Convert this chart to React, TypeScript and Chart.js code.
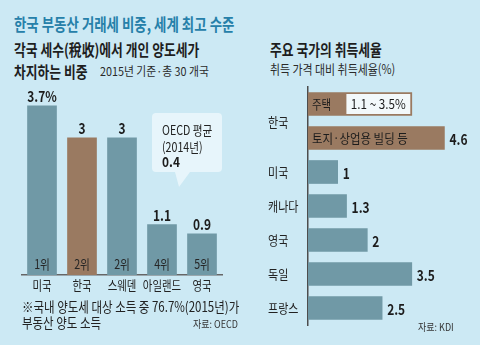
import React, { useEffect, useRef } from 'react';
import { Chart, registerables } from 'chart.js';

Chart.register(...registerables);

const FONT = '"Noto Sans CJK KR", "Noto Sans", sans-serif';

// ---- Left chart: share of personal capital-gains tax in total tax revenue (2015, 30 countries)
const leftCountries = ['미국', '한국', '스웨덴', '아일랜드', '영국'];
const leftShares = [3.7, 3, 3, 1.1, 0.9];
const leftRanks = ['1위', '2위', '2위', '4위', '5위'];
const leftValueLabels = ['3.7%', '3', '3', '1.1', '0.9'];
const oecdAverage = 0.4;
const oecdYearLabel = '(2014년)';

// ---- Right chart: acquisition tax rates (% of acquisition price)
const rightRows = ['한국 주택', '한국 토지·상업용 빌딩 등', '미국', '캐나다', '영국', '독일', '프랑스'];
const rightRowLabels = ['', '', '미국', '캐나다', '영국', '독일', '프랑스'];
const acquisitionRates = [3.5, 4.6, 1, 1.3, 2, 3.5, 2.5];
const rightValueLabels = ['', '4.6', '1', '1.3', '2', '3.5', '2.5'];
const koreaLabel = '한국';
const koreaHousingLabel = '주택';
const koreaHousingRange = '1.1 ~ 3.5%';
const koreaLandLabel = '토지·상업용 빌딩 등';

const BG = '#cce9f4';
const TEAL = '#7099a6';
const BROWN = '#9a7a61';
const DARK = '#1c1c1c';

function drawText(
  ctx: CanvasRenderingContext2D,
  text: string,
  x: number,
  y: number,
  font: string,
  color: string,
  align: CanvasTextAlign,
  sx = 1
) {
  ctx.save();
  ctx.font = font;
  ctx.fillStyle = color;
  ctx.textBaseline = 'middle';
  ctx.textAlign = align;
  ctx.translate(x, y);
  ctx.scale(sx, 1);
  ctx.fillText(text, 0, 0);
  ctx.restore();
}

const leftPlugin = {
  id: 'leftLabels',
  afterDatasetsDraw(chart: any) {
    const ctx = chart.ctx as CanvasRenderingContext2D;
    const area = chart.chartArea;
    const meta = chart.getDatasetMeta(0);
    meta.data.forEach((bar: any, i: number) => {
      drawText(ctx, leftValueLabels[i], bar.x, bar.y - 9.5, `bold 15px ${FONT}`, DARK, 'center', 0.8);
      drawText(ctx, leftRanks[i], bar.x, area.bottom - 11, `13px ${FONT}`, '#262626', 'center', 0.82);
      drawText(ctx, leftCountries[i], bar.x, area.bottom + 10, `13px ${FONT}`, '#222', 'center', 0.8);
    });
    // OECD average callout
    const bx = 152, by = 33, bw = 70, bh = 59, r = 4;
    ctx.save();
    ctx.fillStyle = 'rgba(232, 246, 251, 0.95)';
    ctx.beginPath();
    ctx.moveTo(bx + r, by);
    ctx.lineTo(bx + bw - r, by);
    ctx.quadraticCurveTo(bx + bw, by, bx + bw, by + r);
    ctx.lineTo(bx + bw, by + bh - r);
    ctx.quadraticCurveTo(bx + bw, by + bh, bx + bw - r, by + bh);
    ctx.lineTo(190, by + bh);
    ctx.lineTo(179, by + bh + 15);
    ctx.lineTo(175, by + bh);
    ctx.lineTo(bx + r, by + bh);
    ctx.quadraticCurveTo(bx, by + bh, bx, by + bh - r);
    ctx.lineTo(bx, by + r);
    ctx.quadraticCurveTo(bx, by, bx + r, by);
    ctx.closePath();
    ctx.fill();
    ctx.restore();
    drawText(ctx, 'OECD 평균', 162, 50, `13px ${FONT}`, '#222', 'left', 0.82);
    drawText(ctx, oecdYearLabel, 162, 67, `13px ${FONT}`, '#222', 'left', 0.82);
    drawText(ctx, String(oecdAverage), 162, 82, `bold 14px ${FONT}`, DARK, 'left', 0.85);
  },
};

const rightPlugin = {
  id: 'rightLabels',
  afterDatasetsDraw(chart: any) {
    const ctx = chart.ctx as CanvasRenderingContext2D;
    const meta = chart.getDatasetMeta(0);
    const bars = meta.data as any[];
    bars.forEach((bar: any, i: number) => {
      if (rightValueLabels[i]) {
        drawText(ctx, rightValueLabels[i], bar.x + 5, bar.y + 1, `bold 15px ${FONT}`, DARK, 'left', 0.8);
      }
      if (rightRowLabels[i]) {
        drawText(ctx, rightRowLabels[i], 8, bar.y, `13px ${FONT}`, '#222', 'left', 0.85);
      }
    });
    // Korea group label
    drawText(ctx, koreaLabel, 8, (bars[0].y + bars[1].y) / 2 + 1, `13px ${FONT}`, '#222', 'left', 0.85);
    // Housing bar: inner white box with range text
    const b0 = bars[0];
    const h = b0.height;
    const left = b0.base + (b0.x - b0.base) * 0.37;
    const right = b0.x - 1.5;
    ctx.save();
    ctx.fillStyle = '#f3f9fb';
    ctx.fillRect(left, b0.y - h / 2 + 1.5, right - left, h - 3);
    ctx.restore();
    drawText(ctx, koreaHousingLabel, b0.base + 4, b0.y, `13px ${FONT}`, DARK, 'left', 0.8);
    drawText(ctx, koreaHousingRange, (left + right) / 2, b0.y, `13px ${FONT}`, DARK, 'center', 0.9);
    const b1 = bars[1];
    drawText(ctx, koreaLandLabel, b1.base + 4, b1.y, `13px ${FONT}`, DARK, 'left', 0.88);
  },
};

function LeftChart() {
  const ref = useRef<HTMLCanvasElement>(null);
  useEffect(() => {
    const chart = new Chart(ref.current!, {
      type: 'bar',
      data: {
        labels: leftCountries,
        datasets: [
          {
            data: leftShares,
            backgroundColor: leftCountries.map((c) => (c === '한국' ? BROWN : TEAL)),
            barThickness: 29,
          },
        ],
      },
      options: {
        responsive: false,
        animation: false,
        events: [],
        layout: { padding: { left: 22, right: 28, top: 12, bottom: 25 } },
        plugins: { legend: { display: false }, tooltip: { enabled: false } },
        scales: {
          x: {
            ticks: { display: false },
            grid: { display: false, drawTicks: false },
            border: { display: true, color: '#666', width: 1.5 },
          },
          y: { display: false, min: 0, max: 4 },
        },
      },
      plugins: [leftPlugin],
    });
    return () => chart.destroy();
  }, []);
  return (
    <canvas
      ref={ref}
      width={250}
      height={220}
      style={{ position: 'absolute', left: 0, top: 80, width: 250, height: 220 }}
    />
  );
}

function RightChart() {
  const ref = useRef<HTMLCanvasElement>(null);
  useEffect(() => {
    const chart = new Chart(ref.current!, {
      type: 'bar',
      data: {
        labels: rightRows,
        datasets: [
          {
            data: acquisitionRates,
            backgroundColor: rightRows.map((r) => (r.startsWith('한국') ? BROWN : TEAL)),
            barThickness: 23,
          },
        ],
      },
      options: {
        indexAxis: 'y',
        responsive: false,
        animation: false,
        events: [],
        layout: { padding: { left: 48, right: 0, top: 7, bottom: 7 } },
        plugins: { legend: { display: false }, tooltip: { enabled: false } },
        scales: {
          y: {
            ticks: { display: false },
            grid: { display: false, drawTicks: false },
            border: { display: true, color: '#4d4d4d', width: 1.5 },
          },
          x: { display: false, min: 0, max: 5.8 },
        },
      },
      plugins: [rightPlugin],
    });
    return () => chart.destroy();
  }, []);
  return (
    <canvas
      ref={ref}
      width={220}
      height={252}
      style={{ position: 'absolute', left: 260, top: 80, width: 220, height: 252 }}
    />
  );
}

function T(props: {
  x: number;
  cy: number;
  size: number;
  bold?: boolean;
  color?: string;
  sx?: number;
  right?: boolean;
  children: React.ReactNode;
}) {
  const { x, cy, size, bold, color = '#1e1e1e', sx = 1, right, children } = props;
  return (
    <div
      style={{
        position: 'absolute',
        left: right ? undefined : x,
        right: right ? 480 - x : undefined,
        top: cy - size * 0.58,
        fontFamily: FONT,
        fontSize: size,
        fontWeight: bold ? 700 : 400,
        color,
        lineHeight: 1,
        whiteSpace: 'nowrap',
        transform: `scaleX(${sx})`,
        transformOrigin: right ? 'right center' : 'left center',
      }}
    >
      {children}
    </div>
  );
}

export default function App() {
  return (
    <div
      style={{
        position: 'fixed',
        left: 0,
        top: 0,
        width: 480,
        height: 345,
        background: BG,
        overflow: 'hidden',
      }}
    >
      <T x={14} cy={25} size={17} bold color="#2680a9" sx={0.79}>
        한국 부동산 거래세 비중, 세계 최고 수준
      </T>
      <T x={14} cy={50} size={16} bold sx={0.8}>
        각국 세수(稅收)에서 개인 양도세가
      </T>
      <T x={14} cy={72} size={16} bold sx={0.8}>
        차지하는 비중
      </T>
      <T x={100} cy={72} size={12} sx={0.9} color="#2a2a2a">
        2015년 기준·총 30 개국
      </T>
      <T x={270} cy={50} size={16} bold sx={0.8}>
        주요 국가의 취득세율
      </T>
      <T x={270} cy={70} size={13} sx={0.84} color="#2a2a2a">
        취득 가격 대비 취득세율(%)
      </T>
      <LeftChart />
      <RightChart />
      <T x={22} cy={307} size={14} sx={0.82} color="#222">
        ※국내 양도세 대상 소득 중 76.7%(2015년)가
      </T>
      <T x={22} cy={323} size={14} sx={0.82} color="#222">
        부동산 양도 소득
      </T>
      <T x={238} cy={325} size={10} sx={0.9} color="#333" right>
        자료: OECD
      </T>
      <T x={418} cy={328} size={10} sx={0.9} color="#333">
        자료: KDI
      </T>
    </div>
  );
}
